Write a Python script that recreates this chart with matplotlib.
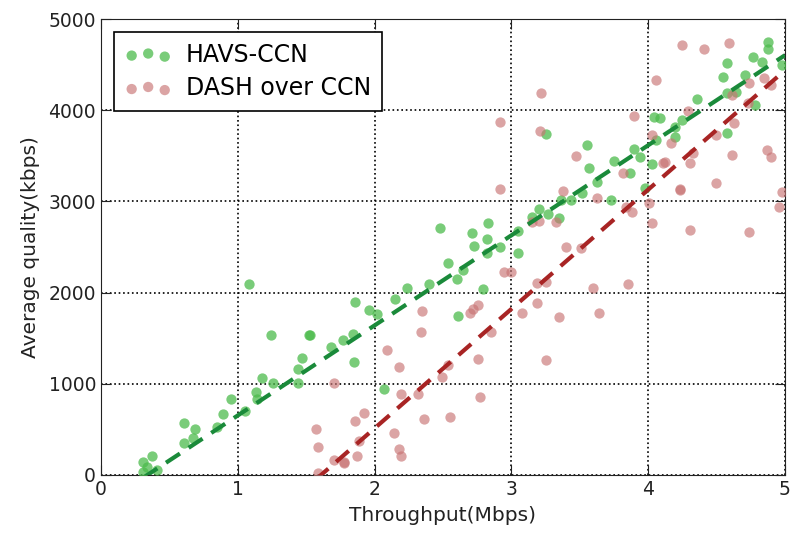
import numpy as np
import matplotlib
matplotlib.use("Agg")
import matplotlib.pyplot as plt

# throughput (Mbps) / average quality (kbps)
havs_x = [0.31, 0.37, 0.34, 0.31, 0.41, 0.61, 0.67, 0.61, 0.69, 0.85, 0.89,
          0.95, 1.05, 1.08, 1.13, 1.14, 1.18, 1.24, 1.26, 1.44, 1.44, 1.47,
          1.52, 1.53, 1.68, 1.77, 1.84, 1.85, 1.86, 1.96, 2.02, 2.07, 2.15,
          2.24, 2.40, 2.48, 2.54, 2.60, 2.61, 2.65, 2.71, 2.73, 2.79, 2.82,
          2.82, 2.83, 2.92, 3.05, 3.05, 3.15, 3.20, 3.25, 3.27, 3.35, 3.36,
          3.44, 3.52, 3.55, 3.57, 3.63, 3.73, 3.75, 3.87, 3.90, 3.94, 3.98,
          4.03, 4.04, 4.06, 4.09, 4.20, 4.20, 4.25, 4.36, 4.55, 4.58, 4.58,
          4.58, 4.64, 4.71, 4.77, 4.78, 4.83, 4.88, 4.88, 4.98]
havs_y = [143, 208, 88, 33, 55, 570, 406, 351, 504, 526, 669,
          833, 702, 2094, 910, 833, 1064, 1535, 1009, 1162, 1009, 1283,
          1535, 1535, 1403, 1480, 1546, 1239, 1897, 1809, 1765, 943, 1930,
          2050, 2094, 2708, 2325, 2149, 1743, 2248, 2653, 2511, 2039, 2588,
          2434, 2763, 2500, 2434, 2675, 2829, 2917, 3739, 2862, 2818, 3015,
          3015, 3092, 3618, 3366, 3213, 3015, 3443, 3311, 3575, 3487, 3147,
          3410, 3925, 3673, 3914, 3816, 3706, 3893, 4123, 4364, 4518, 4189,
          3750, 4200, 4386, 4583, 4057, 4529, 4748, 4671, 4496]

dash_x = [1.57, 1.59, 1.59, 1.70, 1.70, 1.78, 1.78, 1.86, 1.87, 1.89, 1.92,
          2.09, 2.14, 2.18, 2.18, 2.19, 2.19, 2.32, 2.34, 2.35, 2.36, 2.49,
          2.54, 2.55, 2.70, 2.72, 2.76, 2.76, 2.77, 2.85, 2.92, 2.92, 2.95,
          3.00, 3.08, 3.15, 3.19, 3.19, 3.20, 3.21, 3.22, 3.25, 3.25, 3.33,
          3.35, 3.38, 3.40, 3.47, 3.51, 3.60, 3.63, 3.64, 3.82, 3.84, 3.85,
          3.88, 3.90, 4.01, 4.03, 4.03, 4.06, 4.11, 4.12, 4.17, 4.23, 4.23,
          4.25, 4.29, 4.31, 4.31, 4.33, 4.41, 4.50, 4.50, 4.59, 4.61, 4.61,
          4.63, 4.73, 4.74, 4.74, 4.85, 4.87, 4.90, 4.90, 4.96, 4.98]
dash_y = [504, 307, 22, 1009, 164, 142, 131, 592, 208, 373, 680,
          1371, 460, 1184, 285, 208, 888, 888, 1568, 1798, 614, 1075,
          1206, 636, 1776, 1820, 1864, 1272, 855, 1568, 3871, 3136, 2226,
          2226, 1776, 2774, 2105, 1886, 2785, 3772, 4189, 2116, 1261, 2774,
          1732, 3114, 2500, 3498, 2489, 2050, 3037, 1776, 3311, 2939, 2094,
          2884, 3936, 2982, 3728, 2763, 4331, 3421, 3432, 3640, 3136, 3125,
          4715, 3991, 3421, 2686, 3531, 4671, 3728, 3202, 4737, 4167, 3509,
          3860, 4079, 4298, 2664, 4353, 3564, 4276, 3487, 2939, 3103]

# fitted trend lines (slope, intercept) as drawn in the figure
havs_fit = (988, -336)
dash_fit = (1309, -2107)

plt.rcParams['font.family'] = 'DejaVu Sans'

fig = plt.figure(figsize=(7.92, 5.33), dpi=100)
ax = fig.add_axes([0.1275, 0.109, 0.8635, 0.855])

ax.scatter(havs_x, havs_y, s=55, color='#4cbb4c', alpha=0.75, lw=0,
           label='HAVS-CCN', zorder=3)
ax.scatter(dash_x, dash_y, s=55, color='#c87474', alpha=0.65, lw=0,
           label='DASH over CCN', zorder=3)

for xs, (k, b), c in [(havs_x, havs_fit, '#1a8a3a'), (dash_x, dash_fit, '#a82424')]:
    xx = np.array([min(xs), 5])
    ax.plot(xx, k * xx + b, ls=(0, (4, 2.5)), color=c, lw=3, zorder=4)

ax.set_xlim(0, 5)
ax.set_ylim(0, 5000)
ax.set_xticks([0, 1, 2, 3, 4, 5])
ax.set_yticks([0, 1000, 2000, 3000, 4000, 5000])
ax.grid(True, color='black', ls=':', lw=1.2)
ax.set_axisbelow(True)
ax.tick_params(direction='in', length=7, top=True, right=True,
               labelsize=13.5, colors='#222222')
for sp in ax.spines.values():
    sp.set_color('#222222')
ax.set_xlabel('Throughput(Mbps)', fontsize=14.5, color='#222222', labelpad=5)
ax.set_ylabel('Average quality(kbps)', fontsize=14.5, color='#222222', labelpad=6)

leg = ax.legend(loc='upper left', scatterpoints=3, fontsize=17,
                fancybox=False, framealpha=1, edgecolor='black',
                borderaxespad=0.55, handletextpad=0.6, labelspacing=0.4,
                borderpad=0.45)
leg.get_frame().set_linewidth(1.2)

fig.savefig('out.png', dpi=100)
